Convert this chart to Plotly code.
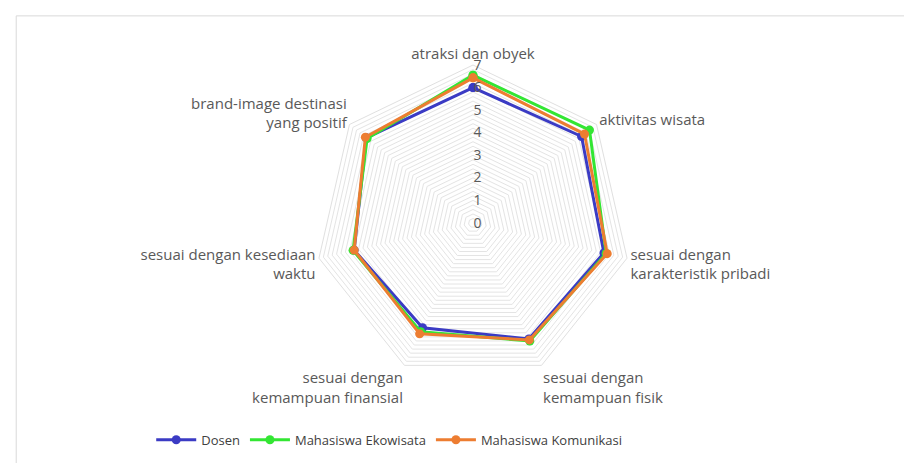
import plotly.graph_objects as go

# axis categories, clockwise from the top
categories = [
    "atraksi dan obyek",
    "aktivitas wisata",
    "sesuai dengan<br>karakteristik pribadi",
    "sesuai dengan<br>kemampuan fisik",
    "sesuai dengan<br>kemampuan finansial",
    "sesuai dengan kesediaan<br>waktu",
    "brand-image destinasi<br>yang positif",
]

dosen = [6.0, 6.15, 5.95, 5.7, 5.15, 5.4, 6.05]
ekowisata = [6.55, 6.6, 6.05, 5.8, 5.35, 5.45, 6.0]
komunikasi = [6.43, 6.32, 6.1, 5.75, 5.45, 5.4, 6.1]

series = [
    ("Dosen", dosen, "#3b3bc4"),
    ("Mahasiswa Ekowisata", ekowisata, "#33e633"),
    ("Mahasiswa Komunikasi", komunikasi, "#ed7d31"),
]

# gridlines every 0.2, labels only on whole numbers
grid_vals = [i / 5 for i in range(0, 36)]
grid_text = [str(int(v)) if abs(v - round(v)) < 1e-9 else "" for v in grid_vals]

fig = go.Figure()
for name, vals, color in series:
    fig.add_trace(
        go.Scatterpolar(
            r=vals + vals[:1],
            theta=categories + categories[:1],
            name=name,
            mode="lines+markers",
            line=dict(color=color, width=3),
            marker=dict(color=color, size=9),
        )
    )

R = 158
cx, cy = 465, 215
W, H = 912, 463

fig.update_layout(
    width=W,
    height=H,
    margin=dict(l=0, r=0, t=0, b=0),
    paper_bgcolor="white",
    font=dict(family="Open Sans, sans-serif", size=14, color="#595959"),
    polar=dict(
        domain=dict(
            x=[(cx - R) / W, (cx + R) / W],
            y=[(H - cy - R) / H, (H - cy + R) / H],
        ),
        gridshape="linear",
        bgcolor="white",
        radialaxis=dict(
            range=[0, 7],
            tickvals=grid_vals,
            ticktext=grid_text,
            angle=90,
            tickangle=90,
            side="clockwise",
            showline=False,
            ticks="",
            gridcolor="#e4e4e4",
            gridwidth=1,
            tickfont=dict(size=14, color="#595959"),
        ),
        angularaxis=dict(
            direction="clockwise",
            rotation=90,
            showgrid=False,
            linecolor="#e0e0e0",
            ticks="",
            tickfont=dict(size=15, color="#595959"),
        ),
    ),
    legend=dict(
        orientation="h",
        x=0.418,
        xanchor="center",
        y=0.035,
        yanchor="bottom",
        font=dict(size=13, color="#404040"),
        itemwidth=40,
    ),
    shapes=[
        dict(
            type="rect",
            xref="paper",
            yref="paper",
            x0=0.009,
            x1=0.991,
            y0=0.01,
            y1=0.983,
            line=dict(color="#d9d9d9", width=1),
        )
    ],
)

fig.write_html("out.html")
